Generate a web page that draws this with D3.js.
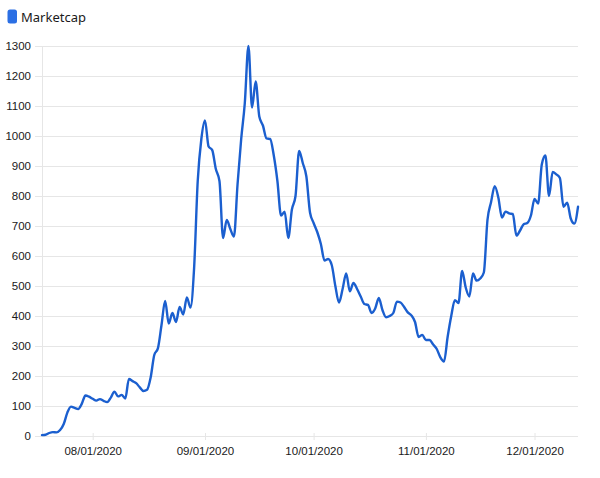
<!DOCTYPE html>
<html>
<head>
<meta charset="utf-8">
<script src="https://cdn.jsdelivr.net/npm/d3@7"></script>
<style>
  html, body { margin: 0; padding: 0; background: #fff; }
  svg { display: block; font-family: "Noto Sans", "Open Sans", sans-serif; }
</style>
</head>
<body>
<svg id="chart" width="600" height="478"></svg>
<script>
const seriesName = "Marketcap";
const startDate = "2020-07-18";
const values = [
  3, 4, 10, 13, 12, 20, 40, 78, 98, 94,
  90, 108, 135, 131, 124, 118, 123, 117, 113, 128,
  148, 132, 137, 125, 190, 183, 176, 162, 150, 154,
  195, 270, 292, 370, 450, 375, 410, 380, 430, 405,
  462, 428, 560, 850, 990, 1052, 965, 953, 890, 850,
  660, 720, 690, 665, 840, 990, 1110, 1300, 1095, 1182,
  1065, 1035, 992, 990, 935, 850, 735, 748, 660, 755,
  800, 950, 910, 865, 745, 710, 680, 640, 585, 590,
  570, 500, 445, 490, 542, 482, 510, 490, 465, 440,
  437, 410, 425, 460, 420, 396, 400, 410, 448, 445,
  430, 412, 402, 380, 330, 337, 320, 320, 305, 290,
  262, 248, 330, 400, 453, 443, 550, 495, 465, 542,
  518, 525, 545, 720, 780, 833, 795, 728, 748, 742,
  740, 668, 685, 706, 710, 735, 790, 775, 905, 935,
  800, 880, 872, 860, 764, 778, 725, 708, 764
];
const yTicks = [0, 100, 200, 300, 400, 500, 600, 700, 800, 900, 1000, 1100, 1200, 1300];
const xTickLabels = ["08/01/2020", "09/01/2020", "10/01/2020", "11/01/2020", "12/01/2020"];

const parse = d3.timeParse("%Y-%m-%d");
const parseTick = d3.timeParse("%m/%d/%Y");
const t0 = parse(startDate);
const data = values.map((v, i) => ({ date: d3.timeDay.offset(t0, i), value: v }));

const svg = d3.select("#chart");
const mLeft = 42, mRight = 578, mTop = 46, mBottom = 436;

const x = d3.scaleTime()
  .domain(d3.extent(data, d => d.date))
  .range([mLeft, mRight]);
const y = d3.scaleLinear().domain([0, 1300]).range([mBottom, mTop]);

const gridColor = "#e6e6e6";

// horizontal grid + y labels
const yAxis = d3.axisLeft(y).tickValues(yTicks).tickFormat(d3.format("d")).tickSize(0).tickPadding(4);
const gy = svg.append("g").attr("transform", `translate(35,0)`).call(yAxis);
gy.select(".domain").remove();
gy.selectAll(".tick line").attr("stroke", gridColor).attr("stroke-width", 1).attr("x1", 0).attr("x2", mRight - 35);
gy.selectAll(".tick text").attr("fill", "#1a1a1a").attr("font-size", 11.5).attr("x", -4);

// vertical axis line
svg.append("line").attr("x1", mLeft + 0.5).attr("x2", mLeft + 0.5).attr("y1", mTop).attr("y2", mBottom)
  .attr("stroke", gridColor).attr("stroke-width", 1);

// x axis
const xAxis = d3.axisBottom(x)
  .tickValues(xTickLabels.map(s => parseTick(s)))
  .tickFormat(d3.timeFormat("%m/%d/%Y"))
  .tickSize(5).tickPadding(6);
const gx = svg.append("g").attr("transform", `translate(0,${mBottom})`).call(xAxis);
gx.select(".domain").attr("stroke", gridColor).attr("d", `M35,0.5H${mRight}`);
gx.selectAll(".tick line").attr("stroke", gridColor).attr("y1", -3).attr("y2", 4);
gx.selectAll(".tick text").attr("fill", "#1a1a1a").attr("font-size", 11.5);

// line
const line = d3.line()
  .x(d => x(d.date))
  .y(d => y(d.value))
  .curve(d3.curveMonotoneX);
svg.append("path").datum(data)
  .attr("fill", "none")
  .attr("stroke", "#1b5fcf")
  .attr("stroke-width", 2.4)
  .attr("stroke-linejoin", "round")
  .attr("stroke-linecap", "round")
  .attr("d", line);

// legend
svg.append("rect").attr("x", 7.5).attr("y", 9.5).attr("width", 9.5).attr("height", 14)
  .attr("rx", 2.5).attr("fill", "#2b6fe4");
svg.append("text").attr("x", 21).attr("y", 21.5).attr("font-size", 13).attr("fill", "#1a1a1a")
  .text(seriesName);
</script>
</body>
</html>
